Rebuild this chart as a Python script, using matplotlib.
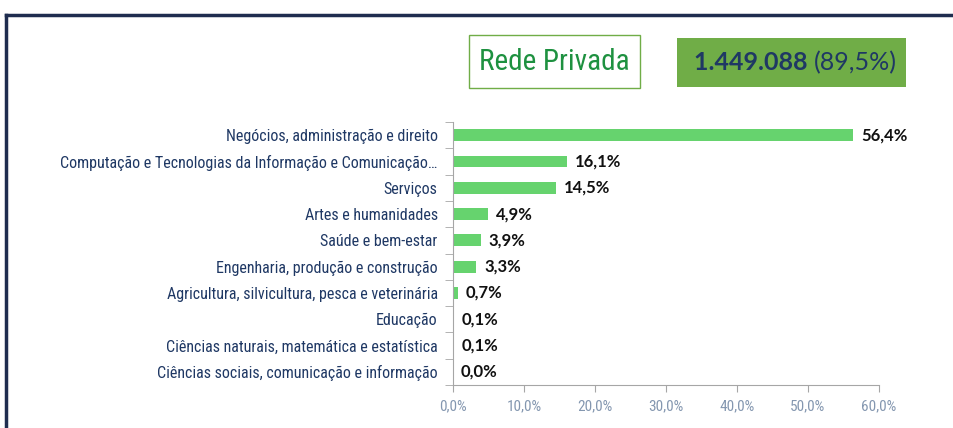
import matplotlib.pyplot as plt
from matplotlib.patches import Rectangle
from matplotlib.lines import Line2D

# Data
categorias = [
    'Negócios, administração e direito',
    'Computação e Tecnologias da Informação e Comunicação…',
    'Serviços',
    'Artes e humanidades',
    'Saúde e bem-estar',
    'Engenharia, produção e construção',
    'Agricultura, silvicultura, pesca e veterinária',
    'Educação',
    'Ciências naturais, matemática e estatística',
    'Ciências sociais, comunicação e informação',
]
percentuais = [56.4, 16.1, 14.5, 4.9, 3.9, 3.3, 0.7, 0.1, 0.1, 0.0]
x_ticks = [0, 10, 20, 30, 40, 50, 60]
titulo = 'Rede Privada'
total = '1.449.088'
total_pct = '(89,5%)'

narrow = ['Liberation Sans Narrow', 'Roboto Condensed', 'DejaVu Sans Condensed', 'DejaVu Sans']
navy = '#1f3864'

fig = plt.figure(figsize=(9.54, 4.28), dpi=100)
W, H = 954, 428

# dark frame
fig.add_artist(Line2D([6 / W, 1], [1 - 15 / H, 1 - 15 / H], color='#1f2d4f', lw=2.5))
fig.add_artist(Line2D([6 / W, 6 / W], [0, 1 - 15 / H], color='#1f2d4f', lw=2.5))

ax = fig.add_axes([453 / W, 1 - 385 / H, (879 - 453) / W, (385 - 122) / H])
y = list(range(len(categorias)))
ax.barh(y, percentuais, height=0.45, color='#66d36e')
ax.set_xlim(0, 60)
ax.set_ylim(len(categorias) - 0.5, -0.5)

for yi, v in zip(y, percentuais):
    ax.text(v + 1.1, yi, f'{v:.1f}%'.replace('.', ','), va='center', ha='left',
            fontsize=12, fontweight='bold', family=['Lato', 'DejaVu Sans'], color='#111111')

ax.set_yticks(y)
ax.set_yticklabels(categorias, fontsize=11.5, family=narrow, color=navy)
ax.set_yticks([i - 0.5 for i in range(len(categorias) + 1)], minor=True)
ax.tick_params(axis='y', which='major', length=0, pad=11)
ax.tick_params(axis='y', which='minor', length=6, color='#a6a6a6')

ax.set_xticks(x_ticks)
ax.set_xticklabels([f'{t:.1f}%'.replace('.', ',') for t in x_ticks], fontsize=11,
                   family=narrow, color='#8497b0')
ax.tick_params(axis='x', length=5, color='#a6a6a6', pad=5)

for s in ['top', 'right']:
    ax.spines[s].set_visible(False)
for s in ['left', 'bottom']:
    ax.spines[s].set_color('#a6a6a6')
ax.set_facecolor('none')

# title boxes
fig.add_artist(Rectangle((469 / W, 1 - 88 / H), (640 - 469) / W, (88 - 35) / H,
                         facecolor='white', edgecolor='#70ad47', lw=1))
fig.text((469 + 640) / 2 / W, 1 - 62 / H, titulo, ha='center', va='center',
         fontsize=21, color='#1e9140', family=narrow)
fig.add_artist(Rectangle((677 / W, 1 - 87 / H), (906 - 677) / W, (87 - 38) / H,
                         facecolor='#70ad47', edgecolor='none'))
fig.text(814 / W, 1 - 63 / H, total + ' ', ha='right', va='center', fontsize=18,
         fontweight='bold', color='#1f3864', family=['Lato', 'DejaVu Sans'])
fig.text(814 / W, 1 - 63 / H, total_pct, ha='left', va='center', fontsize=18,
         color='#1f3864', family=['Lato', 'DejaVu Sans'])

fig.savefig('out.png', dpi=100)
